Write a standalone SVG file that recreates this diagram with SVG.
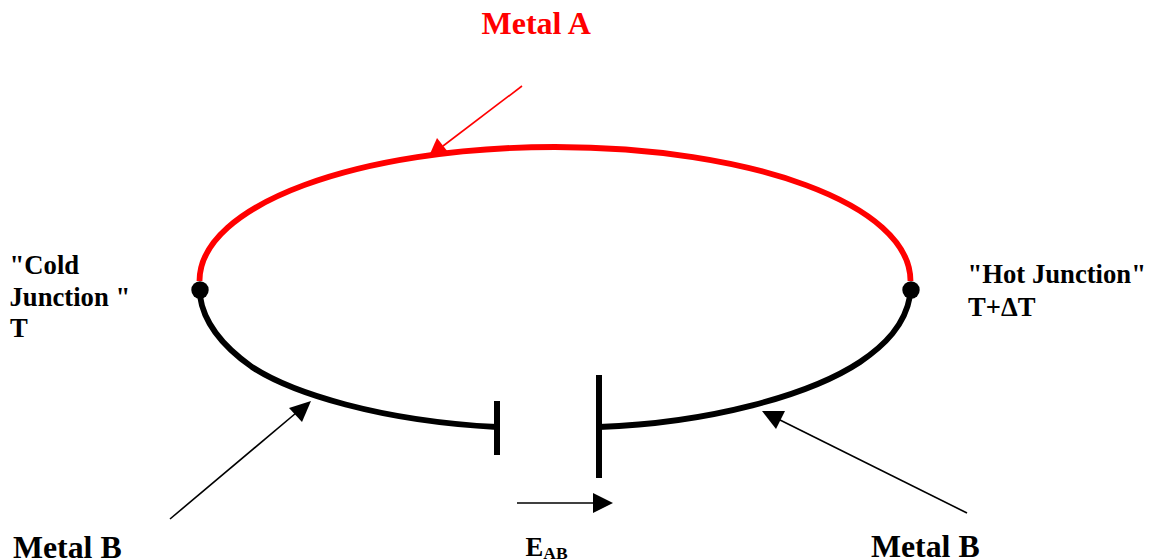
<svg xmlns="http://www.w3.org/2000/svg" width="1151" height="560" viewBox="0 0 1151 560">
<style>
text{font-family:"Liberation Serif","Times New Roman",serif;font-weight:bold;fill:#000}
.big{font-size:32px}
.bigb{font-size:31.8px}
.mid{font-size:26.67px}
.wire{fill:none;stroke:#000;stroke-width:5.8}
.plate{stroke:#000;stroke-width:6;fill:none}
.thin{stroke:#000;stroke-width:1.6;fill:none}
</style>
<rect width="1151" height="560" fill="#fff"/>
<g id="connectors">
<path id="metal-a-wire" d="M199.500 281C199.500 204 360 147 555 147C750 147 910.500 204 910.500 281" fill="none" stroke="#f00" stroke-width="5.800"/>
<path class="wire" d="M200 296C204 325 225 348 252 367C292 393 380 421 497 427"/>
<path class="wire" d="M910 296C905 325 885 345 860 362C810 395 710 423 599 427"/>
<path d="M522 86L443 146" stroke="#f00" stroke-width="1.6" fill="none"/>
<polygon points="429,156 437,138 448,152" fill="#f00"/>
<path class="thin" d="M170 519L296 413"/>
<polygon points="311,401 289,408 302,422"/>
<path class="thin" d="M967 513L778 419"/>
<polygon points="762,411 785,411 776,429"/>
<path class="thin" d="M517 503L594 503"/>
<polygon points="613,503 593,493 593,513"/>
</g>
<g id="plate-left"><path class="plate" d="M497 401V455"/></g>
<g id="plate-right"><path class="plate" d="M599 375V478"/></g>
<g id="cold-junction"><circle cx="200" cy="290" r="8.700"/>
<text class="mid" x="9.500" y="274">"Cold</text><text class="mid" x="9.500" y="306">Junction "</text><text class="mid" x="10" y="337">T</text></g>
<g id="hot-junction"><circle cx="911" cy="290" r="8.700"/>
<text class="mid" x="967.500" y="283">"Hot Junction"</text><text class="mid" x="968" y="316">T+ΔT</text></g>
<g id="metal-a"><text class="big" x="481.500" y="34" style="fill:#f00">Metal A</text></g>
<g id="metal-b-left"><text class="bigb" x="13" y="558">Metal B</text></g>
<g id="metal-b-right"><text class="bigb" x="871" y="557">Metal B</text></g>
<g id="eab"><text class="mid" x="525.500" y="556">E<tspan font-size="17.500" dy="3">AB</tspan></text></g>
</svg>
